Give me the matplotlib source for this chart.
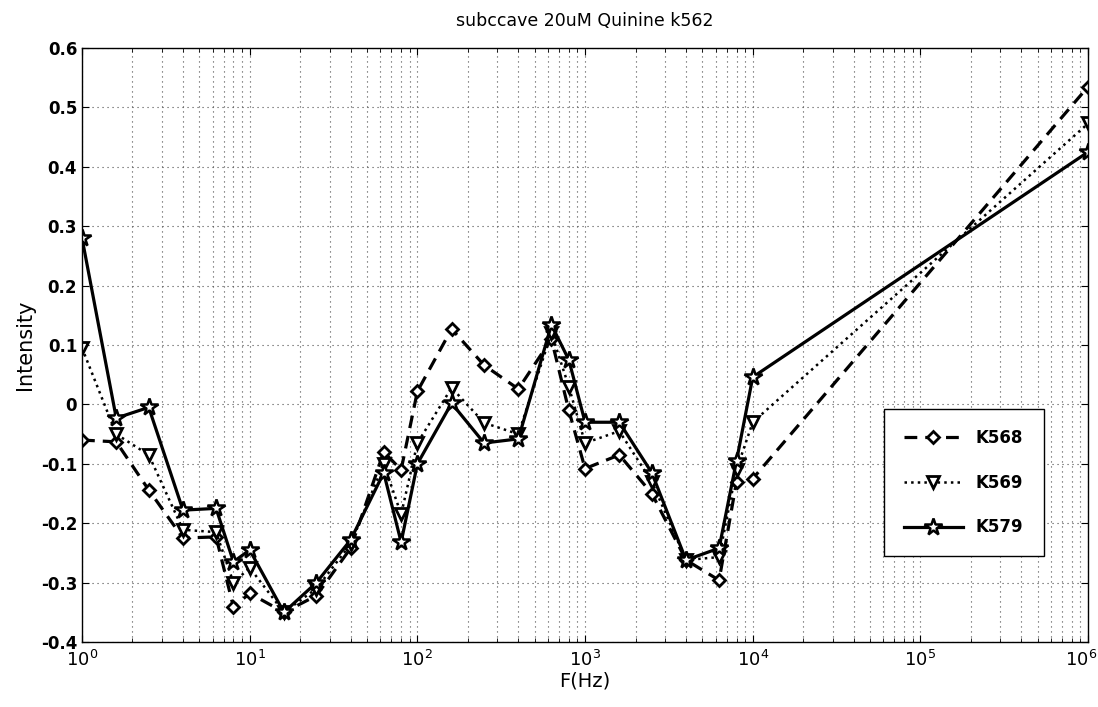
import matplotlib
matplotlib.use("Agg")
import matplotlib.pyplot as plt
import matplotlib.transforms as mtransforms
from matplotlib.ticker import LogLocator, FixedLocator, FuncFormatter, NullFormatter

freq = [1, 1.6, 2.5, 4, 6.3, 8, 10, 16, 25, 40, 63, 80, 100, 160, 250, 400,
        630, 800, 1000, 1600, 2500, 4000, 6300, 8000, 10000, 1000000]

k568 = [-0.06, -0.063, -0.144, -0.225, -0.223, -0.341, -0.318, -0.35, -0.322, -0.242,
        -0.08, -0.11, 0.022, 0.127, 0.066, 0.026, 0.11, -0.01, -0.108, -0.085,
        -0.15, -0.262, -0.296, -0.13, -0.125, 0.535]
k569 = [0.095, -0.05, -0.085, -0.211, -0.215, -0.30, -0.275, -0.35, -0.31, -0.235,
        -0.1, -0.185, -0.065, 0.028, -0.031, -0.05, 0.12, 0.03, -0.065, -0.045,
        -0.13, -0.262, -0.257, -0.11, -0.03, 0.473]
k579 = [0.28, -0.023, -0.005, -0.178, -0.175, -0.265, -0.245, -0.35, -0.30, -0.228,
        -0.115, -0.232, -0.1, 0.002, -0.065, -0.058, 0.134, 0.075, -0.03, -0.03,
        -0.115, -0.262, -0.242, -0.095, 0.046, 0.425]

labels = ["K568", "K569", "K579"]
title = "subccave 20uM Quinine k562"
yticks = [-0.4, -0.3, -0.2, -0.1, 0, 0.1, 0.2, 0.3, 0.4, 0.5, 0.6]

fig = plt.figure(figsize=(10.98, 7.07), dpi=100)
ax = fig.add_axes([0.0747, 0.0919, 0.9163, 0.8402])

ax.plot(freq, k568, linestyle=(0, (4, 2.5)), color="black", lw=2.3,
        marker="D", markersize=6.5, markerfacecolor="white", markeredgecolor="black",
        markeredgewidth=2, label=labels[0])
ax.plot(freq, k569, linestyle=":", color="black", lw=1.8,
        marker="v", markersize=9, markerfacecolor="white", markeredgecolor="black",
        markeredgewidth=2, label=labels[1])
ax.plot(freq, k579, linestyle="-", color="black", lw=2.3,
        marker="*", markersize=13, markerfacecolor="white", markeredgecolor="black",
        markeredgewidth=1.8, label=labels[2])

ax.set_xscale("log")
ax.set_xlim(1, 1e6)
ax.set_ylim(-0.4, 0.6)
ax.yaxis.set_major_locator(FixedLocator(yticks))
ax.yaxis.set_major_formatter(FuncFormatter(lambda v, p: "%g" % round(v, 2)))
ax.xaxis.set_major_locator(LogLocator(base=10, numticks=10))
ax.xaxis.set_minor_locator(LogLocator(base=10, subs=range(2, 10), numticks=100))
ax.xaxis.set_minor_formatter(NullFormatter())

ax.grid(True, which="major", axis="both", linestyle=(0, (1, 3.5)), color="0.3", lw=0.8)
ax.grid(True, which="minor", axis="x", linestyle=(0, (1, 3.5)), color="0.3", lw=0.8)

ax.tick_params(which="both", direction="in", top=True, right=True)
ax.tick_params(which="major", length=5)
ax.tick_params(axis="y", labelsize=12)
ax.tick_params(axis="x", which="major", labelsize=13, pad=6)
ax.tick_params(which="minor", length=3)
for lab in ax.get_yticklabels():
    lab.set_fontweight("bold")

ax.set_title(title, fontsize=12.5, pad=16)
ax.set_xlabel("F(Hz)", fontsize=14, labelpad=1)
ax.set_ylabel("Intensity", fontsize=15, labelpad=4)
for s in ax.spines.values():
    s.set_linewidth(1.0)

fig.canvas.draw()
for lab in ax.get_xticklabels():
    if lab.get_position()[0] >= 1e6 * 0.99:
        lab.set_transform(lab.get_transform() +
                          mtransforms.ScaledTranslation(-7 / 100, 0, fig.dpi_scale_trans))

leg = ax.legend(loc="lower right", bbox_to_anchor=(0.964, 0.13), frameon=True,
                fancybox=False, edgecolor="black", prop={"weight": "bold", "size": 12},
                borderpad=1.2, labelspacing=1.6, handlelength=3.5, framealpha=1)
leg.get_frame().set_linewidth(1.0)

fig.savefig("out.png", dpi=100, facecolor="white")
